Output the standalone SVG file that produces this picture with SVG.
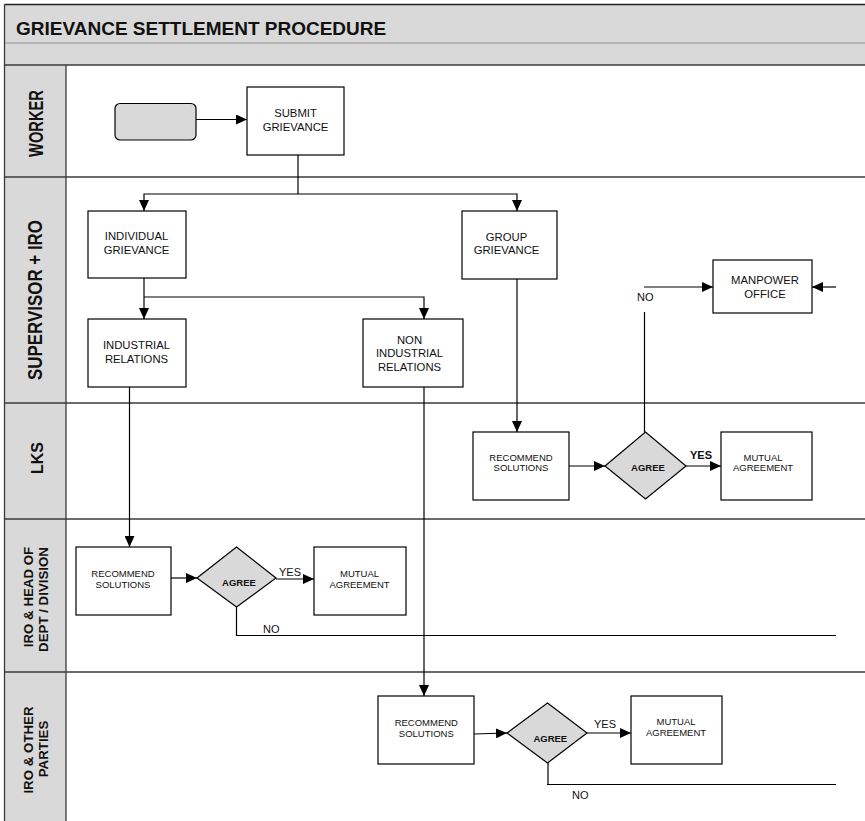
<svg xmlns="http://www.w3.org/2000/svg" width="865" height="821" viewBox="0 0 865 821">
  <style>
    .band { fill: #d9d9d9; }
    .lane-line { stroke: #3a3a3a; stroke-width: 1.3; fill: none; }
    .box { fill: #ffffff; stroke: #000000; stroke-width: 1.2; }
    .start { fill: #d9d9d9; stroke: #000000; stroke-width: 1.2; }
    .decision { fill: #d9d9d9; stroke: #000000; stroke-width: 1.2; }
    .conn { stroke: #000000; stroke-width: 1.2; fill: none; }
    text { font-family: "Liberation Sans", Arial, Helvetica, sans-serif; fill: #111111; }
    .title { font-size: 19px; font-weight: bold; }
    .lane { font-weight: bold; text-anchor: middle; }
    .lbl { font-size: 11.3px; text-anchor: middle; }
    .lbl-s { font-size: 9.5px; text-anchor: middle; }
    .dec { font-size: 9.5px; font-weight: bold; text-anchor: middle; }
    .edge { font-size: 11px; }
  </style>
  <defs>
    <marker id="arrow" markerUnits="userSpaceOnUse" markerWidth="11" markerHeight="10" refX="11" refY="5" orient="auto">
      <path d="M0,0 L11,5 L0,10 z" fill="#000000"/>
    </marker>
  </defs>

  <!-- page background -->
  <rect x="0" y="0" width="865" height="821" fill="#ffffff"/>

  <!-- title bands -->
  <g id="header">
    <rect class="band" x="4.5" y="4.5" width="861" height="60.5"/>
    <line x1="4.5" y1="43" x2="865" y2="43" stroke="#a8a8a8" stroke-width="1.5"/>
    <line x1="4.5" y1="4.5" x2="865" y2="4.5" stroke="#222" stroke-width="1.5"/>
    <text class="title" x="16" y="35">GRIEVANCE SETTLEMENT PROCEDURE</text>
  </g>

  <!-- swimlanes -->
  <g id="lanes">
    <rect class="band" x="4.5" y="65" width="61.5" height="756"/>
    <line class="lane-line" x1="4.5" y1="65" x2="865" y2="65"/>
    <line class="lane-line" x1="4.5" y1="177" x2="865" y2="177" stroke="#666" stroke-width="1.8"/>
    <line class="lane-line" x1="4.5" y1="403" x2="865" y2="403"/>
    <line class="lane-line" x1="4.5" y1="519" x2="865" y2="519"/>
    <line class="lane-line" x1="4.5" y1="672" x2="865" y2="672"/>
    <line class="lane-line" x1="4.5" y1="4.5" x2="4.5" y2="821" stroke-width="1.6"/>
    <line class="lane-line" x1="66" y1="65" x2="66" y2="821"/>

    <text class="lane" font-size="20" textLength="67" lengthAdjust="spacingAndGlyphs" transform="translate(42.5,123.5) rotate(-90)">WORKER</text>
    <text class="lane" font-size="20" textLength="160" lengthAdjust="spacingAndGlyphs" transform="translate(42,300) rotate(-90)">SUPERVISOR + IRO</text>
    <text class="lane" font-size="16" transform="translate(43,458) rotate(-90)">LKS</text>
    <text class="lane" font-size="13.3" transform="translate(33,597) rotate(-90)">IRO &amp; HEAD OF</text>
    <text class="lane" font-size="13.3" transform="translate(48,599.5) rotate(-90)">DEPT / DIVISION</text>
    <text class="lane" font-size="13.3" transform="translate(33,750) rotate(-90)">IRO &amp; OTHER</text>
    <text class="lane" font-size="13.3" transform="translate(48,749) rotate(-90)">PARTIES</text>
  </g>

  <!-- connectors -->
  <g id="connectors">
    <line class="conn" x1="196" y1="119.5" x2="247" y2="119.5" marker-end="url(#arrow)"/>
    <polyline class="conn" points="298,155 298,194"/>
    <polyline class="conn" points="298,194 144,194 144,211" marker-end="url(#arrow)"/>
    <polyline class="conn" points="298,194 517,194 517,211" marker-end="url(#arrow)"/>
    <polyline class="conn" points="144,278 144,319" marker-end="url(#arrow)"/>
    <polyline class="conn" points="144,297 424,297 424,319" marker-end="url(#arrow)"/>
    <polyline class="conn" points="129.5,387 129.5,547" marker-end="url(#arrow)"/>
    <polyline class="conn" points="424,387 424,696" marker-end="url(#arrow)"/>
    <polyline class="conn" points="517,279 517,432" marker-end="url(#arrow)"/>

    <!-- LKS lane -->
    <line class="conn" x1="569" y1="466" x2="605" y2="466" marker-end="url(#arrow)"/>
    <line class="conn" x1="686" y1="466" x2="721" y2="466" marker-end="url(#arrow)"/>
    <line class="conn" x1="644.5" y1="432" x2="644.5" y2="312"/>
    <line class="conn" x1="644" y1="287" x2="713" y2="287" marker-end="url(#arrow)"/>
    <line class="conn" x1="836" y1="287" x2="812" y2="287" marker-end="url(#arrow)"/>

    <!-- IRO & head of dept lane -->
    <line class="conn" x1="171" y1="578" x2="197" y2="578" marker-end="url(#arrow)"/>
    <line class="conn" x1="276" y1="579" x2="314" y2="579" marker-end="url(#arrow)"/>
    <polyline class="conn" points="236.5,607 236.5,635.5 836,635.5"/>

    <!-- IRO & other parties lane -->
    <line class="conn" x1="474" y1="734" x2="507" y2="733" marker-end="url(#arrow)"/>
    <line class="conn" x1="587" y1="733" x2="631" y2="733" marker-end="url(#arrow)"/>
    <line class="conn" x1="548" y1="763" x2="548" y2="784.5" stroke-width="2.2"/>
    <line class="conn" x1="547" y1="784.5" x2="836" y2="784.5"/>

    <!-- branch labels -->
    <text class="edge" font-size="13" x="637" y="300.5">NO</text>
    <text class="edge" font-weight="bold" x="690" y="459.3">YES</text>
    <text class="edge" x="279" y="575.7">YES</text>
    <text class="edge" x="263" y="633.3">NO</text>
    <text class="edge" x="594" y="728.3">YES</text>
    <text class="edge" x="572" y="799.3">NO</text>
  </g>

  <!-- worker lane -->
  <g id="start">
    <rect class="start" x="115" y="103.5" width="81" height="36.5" rx="5"/>
  </g>
  <g id="submit-grievance">
    <rect class="box" x="247" y="87" width="97" height="68"/>
    <text class="lbl" x="295.5" y="116.5">SUBMIT</text>
    <text class="lbl" x="295.5" y="130.5">GRIEVANCE</text>
  </g>

  <!-- supervisor + IRO lane -->
  <g id="individual-grievance">
    <rect class="box" x="88" y="211" width="98" height="67"/>
    <text class="lbl" x="136.5" y="240">INDIVIDUAL</text>
    <text class="lbl" x="136.5" y="254">GRIEVANCE</text>
  </g>
  <g id="group-grievance">
    <rect class="box" x="462" y="211" width="95" height="68"/>
    <text class="lbl" x="506.5" y="240.5">GROUP</text>
    <text class="lbl" x="506.5" y="254">GRIEVANCE</text>
  </g>
  <g id="industrial-relations">
    <rect class="box" x="88" y="319" width="98" height="68"/>
    <text class="lbl" x="136.5" y="349">INDUSTRIAL</text>
    <text class="lbl" x="136.5" y="362.5">RELATIONS</text>
  </g>
  <g id="non-industrial-relations">
    <rect class="box" x="363" y="319" width="100" height="68"/>
    <text class="lbl" x="409.5" y="343.5">NON</text>
    <text class="lbl" x="409.5" y="357">INDUSTRIAL</text>
    <text class="lbl" x="409.5" y="370.5">RELATIONS</text>
  </g>
  <g id="manpower-office">
    <rect class="box" x="713" y="260" width="99" height="53"/>
    <text class="lbl" x="765" y="284.3">MANPOWER</text>
    <text class="lbl" x="765" y="297.7">OFFICE</text>
  </g>

  <!-- LKS lane -->
  <g id="lks-recommend">
    <rect class="box" x="473" y="432" width="96" height="68"/>
    <text class="lbl-s" x="521" y="460.7">RECOMMEND</text>
    <text class="lbl-s" x="521" y="471.3">SOLUTIONS</text>
  </g>
  <g id="lks-agree">
    <polygon class="decision" points="605,466 645.5,432 686,466 645.5,499"/>
    <text class="dec" x="648" y="471.3">AGREE</text>
  </g>
  <g id="lks-mutual-agreement">
    <rect class="box" x="721" y="432" width="91" height="68"/>
    <text class="lbl-s" x="763" y="460.7">MUTUAL</text>
    <text class="lbl-s" x="763" y="471.3">AGREEMENT</text>
  </g>

  <!-- IRO & head of dept / division lane -->
  <g id="dept-recommend">
    <rect class="box" x="76" y="547" width="95" height="68"/>
    <text class="lbl-s" x="123" y="576.7">RECOMMEND</text>
    <text class="lbl-s" x="123" y="587.7">SOLUTIONS</text>
  </g>
  <g id="dept-agree">
    <polygon class="decision" points="197,578 236.5,547 276,578 236.5,607"/>
    <text class="dec" x="239" y="585.7">AGREE</text>
  </g>
  <g id="dept-mutual-agreement">
    <rect class="box" x="314" y="547" width="92" height="68"/>
    <text class="lbl-s" x="359.5" y="576.7">MUTUAL</text>
    <text class="lbl-s" x="359.5" y="587.7">AGREEMENT</text>
  </g>

  <!-- IRO & other parties lane -->
  <g id="parties-recommend">
    <rect class="box" x="378" y="696" width="96" height="68"/>
    <text class="lbl-s" x="426.3" y="726">RECOMMEND</text>
    <text class="lbl-s" x="426.3" y="736.7">SOLUTIONS</text>
  </g>
  <g id="parties-agree">
    <polygon class="decision" points="507,733 547.5,703 587,733 547.5,763"/>
    <text class="dec" x="550.3" y="741.7">AGREE</text>
  </g>
  <g id="parties-mutual-agreement">
    <rect class="box" x="631" y="696" width="91" height="68"/>
    <text class="lbl-s" x="676" y="725.3">MUTUAL</text>
    <text class="lbl-s" x="676" y="736.3">AGREEMENT</text>
  </g>
</svg>
